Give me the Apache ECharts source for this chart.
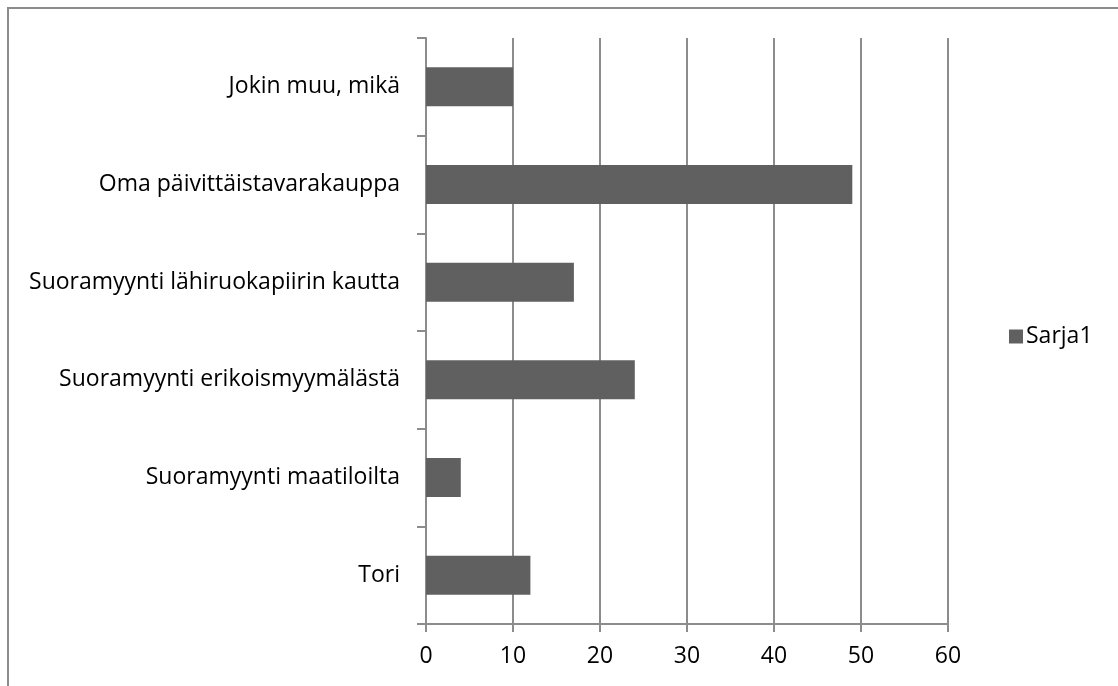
<!DOCTYPE html>
<html>
<head>
<meta charset="utf-8">
<script src="https://cdn.jsdelivr.net/npm/echarts@6/dist/echarts.min.js"></script>
<style>
  html, body { margin: 0; padding: 0; background: #fff; }
  #chart { width: 1118px; height: 686px; }
</style>
</head>
<body>
<div id="chart"></div>
<script>
// categories bottom -> top as in the picture
const categories = [
  'Tori',
  'Suoramyynti maatiloilta',
  'Suoramyynti erikoismyymälästä',
  'Suoramyynti lähiruokapiirin kautta',
  'Oma päivittäistavarakauppa',
  'Jokin muu, mikä'
];
const sarja1 = [12, 4, 24, 17, 49, 10];
const xTicks = [0, 10, 20, 30, 40, 50, 60];

const gray = '#8c8c8c';
const font = '"Open Sans", "Noto Sans", sans-serif';

let chart = echarts.init(document.getElementById('chart'), null, {renderer: 'canvas'});

let option = {
  animation: false,
  textStyle: { fontFamily: font },
  // outer frame of the chart area
  graphic: [{
    type: 'rect',
    shape: { x: 8, y: 8, width: 1200, height: 800 },
    style: { fill: 'none', stroke: gray, lineWidth: 2 },
    silent: true
  }],
  grid: {
    left: 426,
    right: 170,
    top: 38,
    bottom: 62
  },
  legend: {
    data: ['Sarja1'],
    left: 1004,
    top: 320,
    orient: 'vertical',
    itemWidth: 14,
    itemHeight: 14,
    itemGap: 6,
    icon: 'rect',
    textStyle: { fontFamily: font, fontSize: 23, color: '#000', padding: [0, 0, 0, -2] }
  },
  xAxis: {
    type: 'value',
    min: xTicks[0],
    max: xTicks[xTicks.length - 1],
    interval: 10,
    axisLine: { show: true, lineStyle: { color: gray, width: 2 } },
    axisTick: { show: true, length: 8, lineStyle: { color: gray, width: 2 } },
    splitLine: { show: true, lineStyle: { color: gray, width: 2 } },
    axisLabel: { color: '#000', fontSize: 23, margin: 21, fontFamily: font }
  },
  yAxis: {
    type: 'category',
    data: categories,
    boundaryGap: true,
    axisLine: { show: true, lineStyle: { color: gray, width: 2 } },
    axisTick: { show: true, length: 9, alignWithLabel: false, lineStyle: { color: gray, width: 2 } },
    splitLine: { show: false },
    axisLabel: { color: '#000', fontSize: 23, margin: 26, fontFamily: font }
  },
  series: [{
    name: 'Sarja1',
    type: 'bar',
    data: sarja1,
    barWidth: '40%',
    itemStyle: { color: '#606060' }
  }]
};

chart.setOption(option);
</script>
</body>
</html>
